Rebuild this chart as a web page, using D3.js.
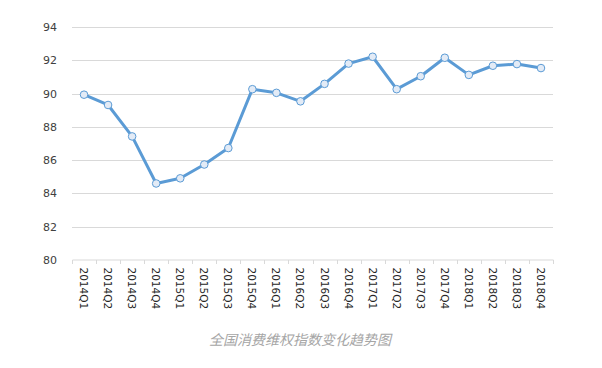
<!DOCTYPE html>
<html><head><meta charset="utf-8">
<script src="https://cdn.jsdelivr.net/npm/d3@7"></script>
<style>
html,body{margin:0;padding:0;background:#fff;}
svg{display:block;}
</style></head>
<body>
<script>
const categories = ["2014Q1","2014Q2","2014Q3","2014Q4","2015Q1","2015Q2","2015Q3","2015Q4",
  "2016Q1","2016Q2","2016Q3","2016Q4","2017Q1","2017Q2","2017Q3","2017Q4",
  "2018Q1","2018Q2","2018Q3","2018Q4"];
const values = [89.93,89.31,87.42,84.59,84.9,85.73,86.72,90.26,
  90.04,89.53,90.58,91.8,92.21,90.26,91.04,92.15,
  91.12,91.67,91.77,91.53];
const yTicks = [80,82,84,86,88,90,92,94];
const title = "全国消费维权指数变化趋势图";

const W = 602, H = 368;
const mLeft = 72, mRight = 553, mTop = 27, mBottom = 259.8;

const svg = d3.select("body").append("svg").attr("width", W).attr("height", H);

const x = d3.scaleBand().domain(categories).range([mLeft, mRight]).paddingInner(0).paddingOuter(0);
const y = d3.scaleLinear().domain([80, 94]).range([mBottom, mTop]);

// gridlines
svg.append("g").selectAll("line").data(yTicks.filter(d => d !== 80)).join("line")
  .attr("x1", mLeft).attr("x2", mRight)
  .attr("y1", d => Math.round(y(d)) + 0.5).attr("y2", d => Math.round(y(d)) + 0.5)
  .attr("stroke", "#d9d9d9").attr("stroke-width", 1);

// y axis labels
const yAxis = d3.axisLeft(y).tickValues(yTicks).tickSize(0).tickPadding(0);
const gy = svg.append("g").attr("transform", `translate(${mLeft - 15},0)`).call(yAxis);
gy.select(".domain").remove();
gy.selectAll("text").attr("font-family", "DejaVu Sans").attr("font-size", 11).attr("fill", "#404040");

// x axis
const xAxis = d3.axisBottom(x).tickSize(0).tickPadding(0);
const gx = svg.append("g").attr("transform", `translate(0,${Math.round(mBottom) - 0.5})`).call(xAxis);
gx.select(".domain").attr("stroke", "#d9d9d9");
gx.selectAll(".tick line").remove();
gx.selectAll("text")
  .attr("font-family", "DejaVu Sans").attr("font-size", 10.5).attr("fill", "#262626")
  .attr("text-anchor", "start")
  .attr("dy", null).attr("y", 0)
  .attr("transform", "translate(-4,8) rotate(90)");
// category boundary ticks
const bounds = categories.map(c => x(c)).concat([x(categories[categories.length - 1]) + x.bandwidth()]);
svg.append("g").selectAll("line").data(bounds).join("line")
  .attr("x1", d => Math.round(d) + 0.5).attr("x2", d => Math.round(d) + 0.5)
  .attr("y1", Math.round(mBottom)).attr("y2", Math.round(mBottom) + 4)
  .attr("stroke", "#d9d9d9");

// line
const line = d3.line().x((d, i) => x(categories[i]) + x.bandwidth() / 2).y(d => y(d));
svg.append("path").datum(values).attr("d", line)
  .attr("fill", "none").attr("stroke", "#5b9bd5").attr("stroke-width", 3)
  .attr("stroke-linejoin", "round").attr("stroke-linecap", "round");

svg.append("g").selectAll("circle").data(values).join("circle")
  .attr("cx", (d, i) => x(categories[i]) + x.bandwidth() / 2)
  .attr("cy", d => y(d)).attr("r", 3.8)
  .attr("fill", "#e3ebf6").attr("stroke", "#5b9bd5").attr("stroke-width", 1);

// title
svg.append("text").attr("x", 300).attr("y", 345).attr("text-anchor", "middle")
  .attr("font-family", "Noto Sans CJK SC").attr("font-size", 14).attr("font-style", "italic")
  .attr("fill", "#a6a6a6").text(title);
</script>
</body></html>
